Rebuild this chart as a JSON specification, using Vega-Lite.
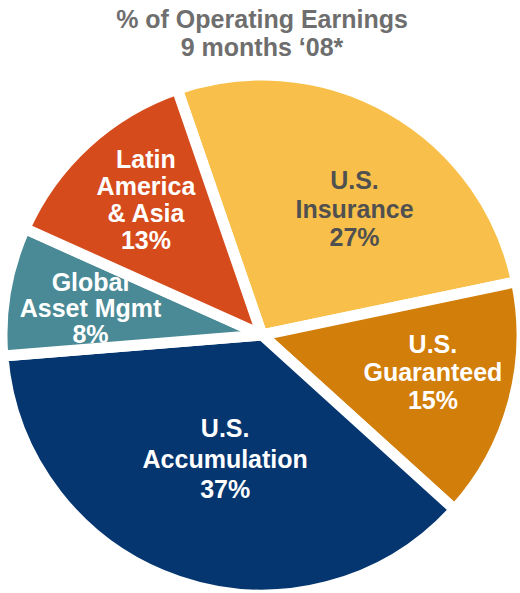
{
  "$schema": "https://vega.github.io/schema/vega-lite/v6.json",
  "width": 524,
  "height": 520,
  "padding": {"top": 75, "left": 0, "right": 0, "bottom": 0},
  "autosize": {"type": "none"},
  "background": "white",
  "title": {
    "text": ["% of Operating Earnings", "9 months ‘08*"],
    "font": "Liberation Sans",
    "fontSize": 25,
    "fontWeight": "bold",
    "color": "#6e6e6e",
    "anchor": "middle",
    "lineHeight": 28,
    "offset": -8
  },
  "config": {"view": {"stroke": null}},
  "data": {
    "values": [
      {"segment": "U.S. Insurance", "label": "U.S.\nInsurance\n27%", "value": 27, "order": 1},
      {"segment": "U.S. Guaranteed", "label": "U.S.\nGuaranteed\n15%", "value": 15, "order": 2},
      {"segment": "U.S. Accumulation", "label": "U.S.\nAccumulation\n37%", "value": 37, "order": 3},
      {"segment": "Global Asset Mgmt", "label": "Global\nAsset Mgmt\n8%", "value": 8, "order": 4},
      {"segment": "Latin America & Asia", "label": "Latin\nAmerica\n& Asia\n13%", "value": 13, "order": 5}
    ]
  },
  "encoding": {
    "theta": {"field": "value", "type": "quantitative", "stack": true, "scale": {"range": [-0.332, 5.951]}},
    "order": {"field": "order", "type": "quantitative"}
  },
  "layer": [
    {
      "mark": {"type": "arc", "outerRadius": 260, "stroke": "white", "strokeWidth": 11},
      "encoding": {
        "color": {
          "field": "segment",
          "type": "nominal",
          "legend": null,
          "scale": {
            "domain": ["U.S. Insurance", "U.S. Guaranteed", "U.S. Accumulation", "Global Asset Mgmt", "Latin America & Asia"],
            "range": ["#f8c04a", "#d27e0a", "#053670", "#4a8a96", "#d64b1c"]
          }
        }
      }
    },
    {
      "mark": {"type": "text", "radius": 157, "dx": 15, "dy": -17, "font": "Liberation Sans", "fontSize": 25, "fontWeight": "bold", "lineBreak": "\n", "lineHeight": 28.5, "align": "center", "baseline": "middle", "color": "#505050"},
      "encoding": {"text": {"condition": {"test": "datum.segment === 'U.S. Insurance'", "field": "label"}, "value": ""}}
    },
    {
      "mark": {"type": "text", "radius": 174, "dx": 3, "dy": -36, "font": "Liberation Sans", "fontSize": 25, "fontWeight": "bold", "lineBreak": "\n", "lineHeight": 28, "align": "center", "baseline": "middle", "color": "white"},
      "encoding": {"text": {"condition": {"test": "datum.segment === 'U.S. Guaranteed'", "field": "label"}, "value": ""}}
    },
    {
      "mark": {"type": "text", "radius": 174, "dy": -22, "font": "Liberation Sans", "fontSize": 25, "fontWeight": "bold", "lineBreak": "\n", "lineHeight": 26, "align": "center", "baseline": "middle", "color": "white"},
      "encoding": {"text": {"condition": {"test": "datum.segment === 'Global Asset Mgmt'", "field": "label"}, "value": ""}}
    },
    {
      "mark": {"type": "text", "radius": 130, "dx": 5, "dy": -29, "font": "Liberation Sans", "fontSize": 25, "fontWeight": "bold", "lineBreak": "\n", "lineHeight": 30.5, "align": "center", "baseline": "middle", "color": "white"},
      "encoding": {"text": {"condition": {"test": "datum.segment === 'U.S. Accumulation'", "field": "label"}, "value": ""}}
    },
    {
      "mark": {"type": "text", "radius": 172, "dy": -48, "font": "Liberation Sans", "fontSize": 25, "fontWeight": "bold", "lineBreak": "\n", "lineHeight": 27, "align": "center", "baseline": "middle", "color": "white"},
      "encoding": {"text": {"condition": {"test": "datum.segment === 'Latin America & Asia'", "field": "label"}, "value": ""}}
    }
  ]
}
